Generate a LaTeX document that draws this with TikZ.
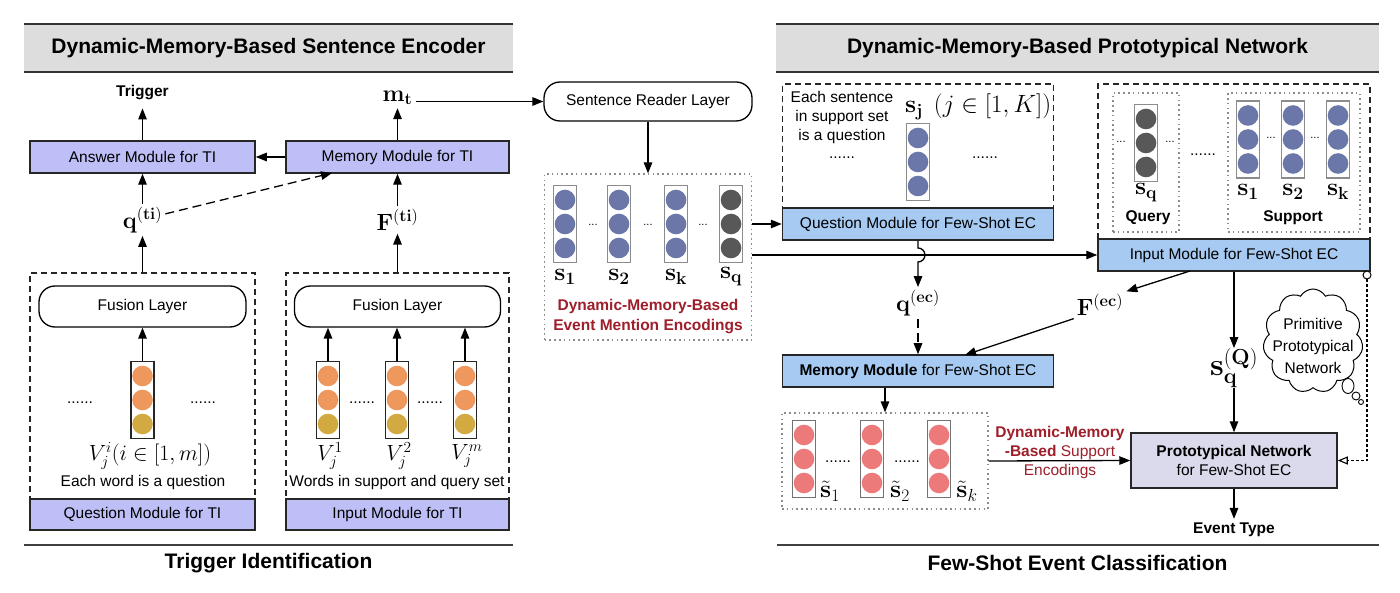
\RequirePackage{fix-cm}
\documentclass[tikz,border=0pt]{standalone}
\usepackage[no-math]{fontspec}
\setmainfont{Liberation Sans}
\usetikzlibrary{arrows.meta,shapes.symbols}
\definecolor{tiblue}{RGB}{189,191,246}
\definecolor{ecblue}{RGB}{166,202,242}
\definecolor{pngray}{RGB}{218,218,236}
\definecolor{hdrgray}{RGB}{221,221,221}
\definecolor{cblue}{RGB}{106,119,168}
\definecolor{cdark}{RGB}{88,88,88}
\definecolor{corange}{RGB}{238,152,94}
\definecolor{cmustard}{RGB}{211,170,66}
\definecolor{csalmon}{RGB}{236,122,122}
\definecolor{dred}{RGB}{158,30,42}
\newcommand\vcol[7]{%
 \node[colbox,draw=#7] (#1) at (#2,#3) {};
 \fill[#4] (#2,#3-24) circle[radius=10.3pt];
 \fill[#5] (#2,#3) circle[radius=10.3pt];
 \fill[#6] (#2,#3+24) circle[radius=10.3pt];
}
\begin{document}
\begin{tikzpicture}[x=1pt,y=-1pt,
 txt/.style={font=\fontsize{15.5}{19}\selectfont, inner sep=0pt, align=center},
 btxt/.style={font=\fontsize{15.5}{19}\selectfont\bfseries, inner sep=4pt, align=center},
 ttl/.style={font=\fontsize{21}{25}\selectfont\bfseries, inner sep=0pt},
 mlab/.style={font=\fontsize{23.5}{27}\selectfont, inner sep=3pt},
 slab/.style={font=\fontsize{25}{28}\selectfont, inner sep=0pt},
 arr/.style={-{Triangle[length=11pt,width=8.5pt]}, line width=1.3pt},
 modbox/.style={draw=black!85, line width=1.5pt, minimum height=32pt, txt},
 dbox/.style={draw=black!85, dash pattern=on 6pt off 4pt, line width=1.3pt, inner sep=0pt},
 dotbox/.style={draw=black!45, dash pattern=on 1.6pt off 3.2pt, line width=1.3pt, inner sep=0pt},
 fusion/.style={draw, line width=1.3pt, rounded corners=16pt, minimum width=207pt, minimum height=41pt, txt},
 colbox/.style={line width=1.3pt, minimum width=23pt, minimum height=77pt, inner sep=0pt},
 dotstxt/.style={font=\fontsize{15.5}{19}\selectfont, inner sep=0pt},
 sdots/.style={font=\fontsize{11}{13}\selectfont, inner sep=0pt},
]
\useasboundingbox[fill=white] (0,0) rectangle (1400,593);

% ================= LEFT PANEL =================
\fill[hdrgray] (24,24) rectangle (513,72);
\draw[line width=1.8pt, black!80] (24,24) -- (513,24) (24,72) -- (513,72);
\node[ttl] (t1) at (268.5,48) {Dynamic-Memory-Based Sentence Encoder};

\node[btxt, inner sep=8pt] (trig) at (142.5,93) {Trigger};
\node[modbox, fill=tiblue, minimum width=225pt] (ans) at (142.5,157) {Answer Module for TI};
\node[modbox, fill=tiblue, minimum width=223pt] (memti) at (397.5,157) {Memory Module for TI};
\node[mlab] (mt) at (397.5,98) {$\mathbf{m_t}$};
\node[mlab] (qti) at (142.5,220) {$\mathbf{q}^{(\mathbf{ti})}$};
\node[mlab] (fti) at (397.5,220) {$\mathbf{F}^{(\mathbf{ti})}$};
\coordinate (memtiin) at (332,173);

\draw[arr] (ans.north) -- (trig.south);
\draw[arr] (memti.north) -- (mt.south);
\draw[arr] (memti.west) -- (ans.east);
\draw[arr] (qti.north) -- (ans.south);
\draw[arr] (fti.north) -- (memti.south);
\draw[arr, dash pattern=on 9pt off 5pt] (qti.15) -- (memtiin);

\node[dbox, minimum width=225pt, minimum height=257pt] (qtib) at (142.5,401.5) {};
\node[dbox, minimum width=223pt, minimum height=257pt] (itib) at (397.5,401.5) {};
\node[modbox, fill=tiblue, minimum width=225pt, minimum height=31pt] (qmti) at (142.5,514.5) {Question Module for TI};
\node[modbox, fill=tiblue, minimum width=223pt, minimum height=31pt] (imti) at (397.5,514.5) {Input Module for TI};
\draw[arr] (qtib.north) -- (qti.south);
\draw[arr] (itib.north) -- (fti.south);

\node[fusion] (fu1) at (142.5,306.5) {Fusion Layer};
\node[fusion, minimum width=206pt] (fu2) at (397.5,306.5) {Fusion Layer};

\vcol{v0}{142.5}{400}{corange}{corange}{cmustard}{black!85}
\draw[arr] (v0.north) -- (fu1.south);
\node[dotstxt] (d1) at (80,403) {......};
\node[dotstxt] (d2) at (203,403) {......};
\node[mlab, font=\fontsize{22}{26}\selectfont] (vl0) at (150,456) {$V_j^i(i\in[1,m])$};
\node[txt] (ew) at (143,482) {Each word is a question};

\vcol{v1}{328}{400}{corange}{corange}{cmustard}{black!85}
\vcol{v2}{397}{400}{corange}{corange}{cmustard}{black!85}
\vcol{v3}{465}{400}{corange}{corange}{cmustard}{black!85}
\draw[arr] (v1.north) -- (v1.north |- fu2.south);
\draw[arr] (v2.north) -- (v2.north |- fu2.south);
\draw[arr] (v3.north) -- (v3.north |- fu2.south);
\node[dotstxt] (d3) at (362,403) {......};
\node[dotstxt] (d4) at (430,403) {......};
\node[mlab, font=\fontsize{22}{26}\selectfont] (vl1) at (330,456) {$V_j^1$};
\node[mlab, font=\fontsize{22}{26}\selectfont] (vl2) at (399,456) {$V_j^2$};
\node[mlab, font=\fontsize{22}{26}\selectfont] (vl3) at (467,456) {$V_j^m$};
\node[txt] (wq) at (397,482) {Words in support and query set};

\draw[line width=1.5pt, black!75] (24,545) -- (513,545);
\node[ttl] (tid) at (268.5,563) {Trigger Identification};

% ================= MIDDLE =================
\node[fusion, minimum width=208pt, minimum height=39pt] (sr) at (648,101.5) {Sentence Reader Layer};
\draw[arr] (mt.east |- sr.west) -- (sr.west);
\node[dotbox, minimum width=207pt, minimum height=166pt] (em) at (648,257) {};
\draw[arr] (sr.south) -- (em.north);
\vcol{m1}{565}{224}{cblue}{cblue}{cblue}{black!45}
\vcol{m2}{619}{224}{cblue}{cblue}{cblue}{black!45}
\vcol{m3}{676}{224}{cblue}{cblue}{cblue}{black!45}
\vcol{m4}{731}{224}{cdark}{cdark}{cdark}{black!45}
\node[sdots] (e1) at (593,225) {...};
\node[sdots] (e2) at (648,225) {...};
\node[sdots] (e3) at (703,225) {...};
\node[slab] (ls1) at (565,277) {$\mathbf{s_1}$};
\node[slab] (ls2) at (619,277) {$\mathbf{s_2}$};
\node[slab] (ls3) at (676,277) {$\mathbf{s_k}$};
\node[slab] (ls4) at (731,277) {$\mathbf{s_q}$};
\node[txt, font=\fontsize{15.5}{20}\selectfont\bfseries, text=dred] (emt) at (648,317) {Dynamic-Memory-Based\\Event Mention Encodings};

% ================= RIGHT PANEL =================
\fill[hdrgray] (776,24) rectangle (1379,72);
\draw[line width=1.8pt, black!80] (776,24) -- (1379,24) (776,72) -- (1379,72);
\node[ttl] (t2) at (1077.5,48) {Dynamic-Memory-Based Prototypical Network};

\node[dbox, minimum width=271pt, minimum height=156pt] (qecb) at (918,162) {};
\node[modbox, fill=ecblue, minimum width=271pt] (qec) at (918,224) {Question Module for Few-Shot EC};
\node[txt] (es) at (842,117) {Each sentence\\in support set\\is a question};
\node[dotstxt] (d5) at (842,158) {......};
\node[dotstxt] (d6) at (985,158) {......};
\node[slab, anchor=west] (sj) at (905,107) {$\mathbf{s_j}\;\,(j\in[1,K])$};
\vcol{sjc}{918}{162}{cblue}{cblue}{cblue}{black!45}

\node[dbox, minimum width=272pt, minimum height=187pt] (iecb) at (1234,177.5) {};
\node[modbox, fill=ecblue, minimum width=272pt] (iec) at (1234,255) {Input Module for Few-Shot EC};
\node[dotbox, minimum width=66pt, minimum height=139pt] (qryb) at (1146,162.5) {};
\node[dotbox, minimum width=132pt, minimum height=139pt] (supb) at (1294,162.5) {};
\vcol{qc}{1146}{143}{cdark}{cdark}{cdark}{black!45}
\node[sdots] (e4) at (1121,142) {...};
\node[sdots] (e5) at (1170,142) {...};
\node[slab] (lsq) at (1146,193) {$\mathbf{s_q}$};
\node[btxt] (qry) at (1148,218) {Query};
\node[dotstxt] (d9) at (1203,155) {......};
\vcol{sc1}{1248}{139.5}{cblue}{cblue}{cblue}{black!45}
\vcol{sc2}{1293}{139.5}{cblue}{cblue}{cblue}{black!45}
\vcol{sc3}{1338}{139.5}{cblue}{cblue}{cblue}{black!45}
\node[sdots] (e6) at (1271,138) {...};
\node[sdots] (e7) at (1315,138) {...};
\node[slab] (lr1) at (1248,192) {$\mathbf{s_1}$};
\node[slab] (lr2) at (1293,192) {$\mathbf{s_2}$};
\node[slab] (lr3) at (1338,192) {$\mathbf{s_k}$};
\node[btxt] (sup) at (1293,218) {Support};

% connectors middle -> right
\draw[arr] (em.east |- qec.west) -- (qec.west);
\draw[arr] (em.east |- iec.west) -- (iec.west);

\node[mlab] (qec2) at (918,303) {$\mathbf{q}^{(\mathbf{ec})}$};
\draw[arr] (qec.south) -- (918,248) arc[start angle=90, end angle=-90, radius=7pt] -- (qec2.north);
\node[modbox, fill=ecblue, minimum width=271pt] (mec) at (918,371) {\textbf{Memory Module} for Few-Shot EC};
\draw[arr, dash pattern=on 9pt off 5pt] (qec2.south) -- (mec.north);

\node[mlab] (fec) at (1100,305) {$\mathbf{F}^{(\mathbf{ec})}$};
\coordinate (iecF) at (1190,271);
\coordinate (mecF) at (965,355);
\draw[arr] (iecF) -- (fec.north east);
\draw[arr] (fec.south west) -- (mecF);

\node[slab, font=\fontsize{31}{34}\selectfont] (sqq) at (1234,368) {$\mathbf{s}_{\mathbf q}^{(\mathbf Q)}$};
\draw[arr] (iec.south) -- (sqq.north);
\node[modbox, fill=pngray, minimum width=206pt, minimum height=55pt] (pn) at (1234,460.5) {\textbf{Prototypical Network}\\for Few-Shot EC};
\draw[arr] (sqq.south) -- (pn.north);
\node[btxt] (evt) at (1234,530) {Event Type};
\draw[arr] (pn.south) -- (evt.north);

% cloud
\node[cloud, draw, line width=1pt, fill=white, cloud puffs=11, cloud puff arc=120, cloud ignores aspect, minimum width=100pt, minimum height=104pt] (cl) at (1313,341) {};
\node[txt, font=\fontsize{15.5}{22}\selectfont] (clt) at (1313,346) {Primitive\\Prototypical\\Network};
\draw[line width=0.9pt, fill=white] (1348,386) ellipse[x radius=6pt, y radius=7.5pt];
\draw[line width=0.9pt, fill=white] (1356,396) circle[radius=4pt];
\draw[line width=0.9pt, fill=white] (1361,402) circle[radius=2.5pt];

\draw[line width=1.1pt, dash pattern=on 3pt off 2pt, -{Triangle[open,length=10pt,width=8pt]}] (1367,279) |- (pn.east);
\node[circle, draw, line width=1pt, fill=white, minimum size=8pt, inner sep=0pt] (oc) at (1367,275) {};

% support encodings
\node[dotbox, minimum width=206pt, minimum height=96pt] (se) at (885,461) {};
\draw[arr] (mec.south -| se.north) -- (se.north);
\vcol{r1}{804}{459}{csalmon}{csalmon}{csalmon}{black!55}
\vcol{r2}{872}{459}{csalmon}{csalmon}{csalmon}{black!55}
\vcol{r3}{939}{459}{csalmon}{csalmon}{csalmon}{black!55}
\node[dotstxt] (d10) at (838,462) {......};
\node[dotstxt] (d11) at (907,462) {......};
\node[slab] (lt1) at (830,491) {$\tilde{\mathbf{s}}_1$};
\node[slab] (lt2) at (900,491) {$\tilde{\mathbf{s}}_2$};
\node[slab] (lt3) at (967,491) {$\tilde{\mathbf{s}}_k$};
\draw[arr] (se.east) -- (pn.west);
\node[txt, text=dred] (dms) at (1060,452) {\textbf{Dynamic-Memory}\\\textbf{-Based} Support\\Encodings};

\draw[line width=1.5pt, black!75] (777,545) -- (1379,545);
\node[ttl] (fsec) at (1077.5,563) {Few-Shot Event Classification};
\end{tikzpicture}
\end{document}
